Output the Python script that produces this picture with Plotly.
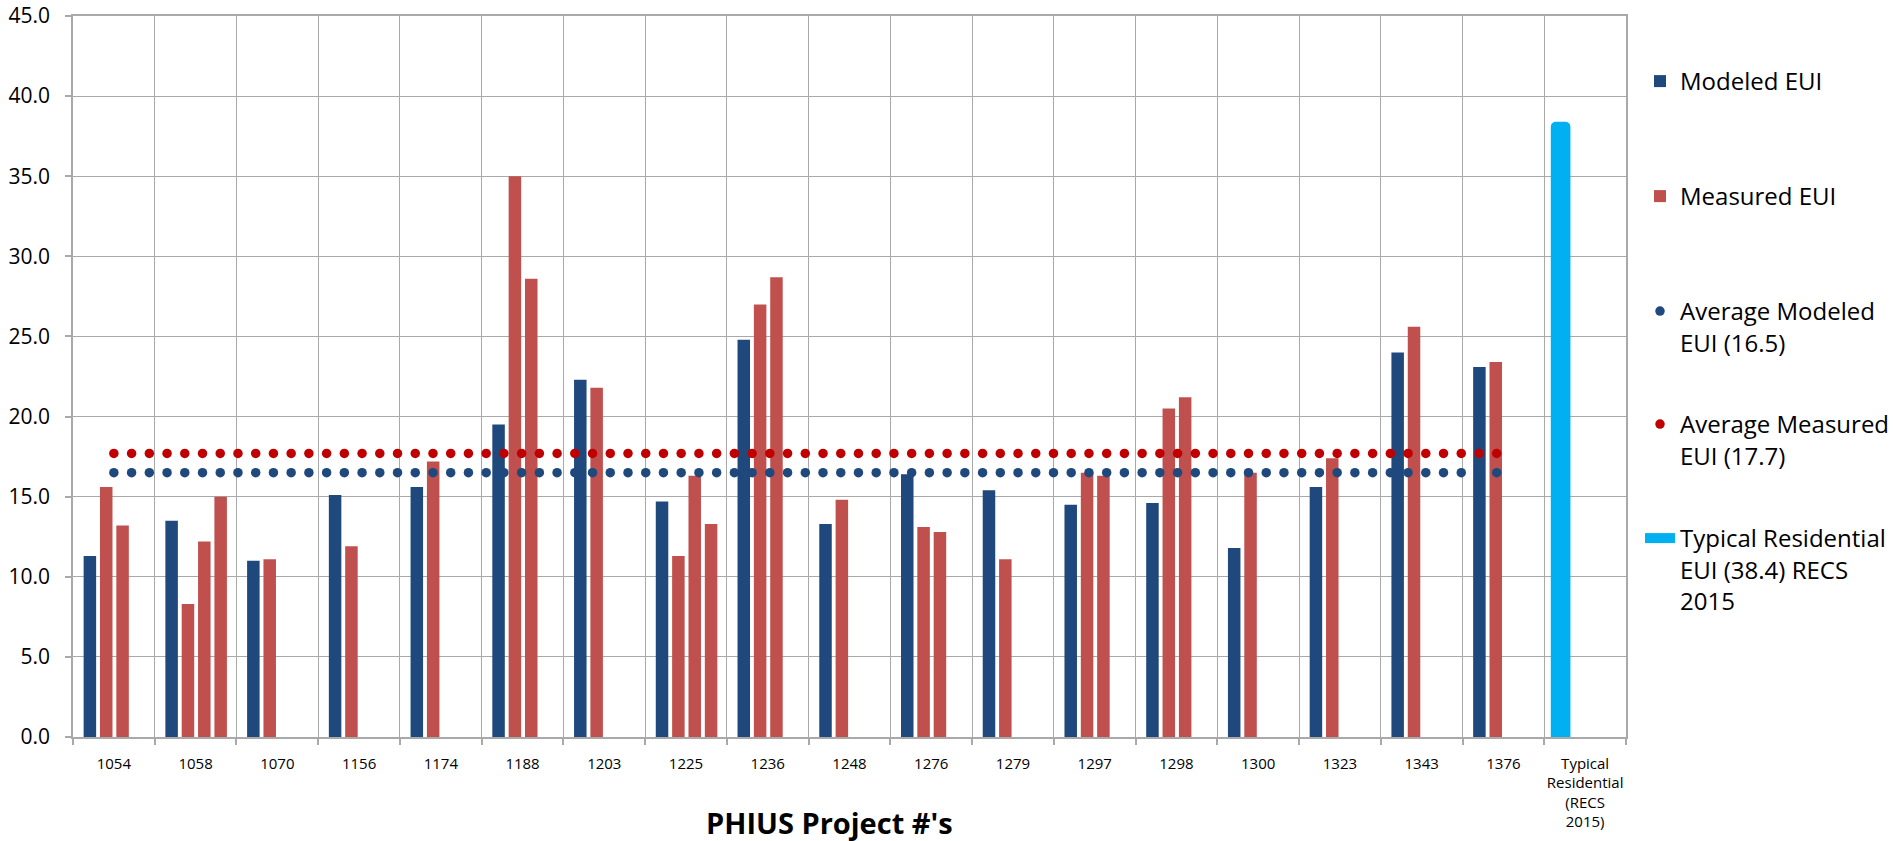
import numpy as np
import plotly.graph_objects as go

# PHIUS project numbers along the x axis, plus the national reference column
projects = ["1054", "1058", "1070", "1156", "1174", "1188", "1203", "1225", "1236",
            "1248", "1276", "1279", "1297", "1298", "1300", "1323", "1343", "1376"]
typical_label = "Typical<br>Residential<br>(RECS<br>2015)"

# Site EUI (kBtu/sf/yr)
modeled_eui = [11.3, 13.5, 11.0, 15.1, 15.6, 19.5, 22.3, 14.7, 24.8,
               13.3, 16.4, 15.4, 14.5, 14.6, 11.8, 15.6, 24.0, 23.1]
measured_eui_yr1 = [15.6, 8.3, 11.1, 11.9, 17.2, 35.0, 21.8, 11.3, 27.0,
                    14.8, 13.1, 11.1, 16.5, 20.5, 16.5, 17.4, 25.6, 23.4]
measured_eui_yr2 = [13.2, 12.2, None, None, None, 28.6, None, 16.3, 28.7,
                    None, 12.8, None, 16.3, 21.2, None, None, None, None]
measured_eui_yr3 = [None, 15.0, None, None, None, None, None, 13.3, None,
                    None, None, None, None, None, None, None, None, None]

avg_modeled_eui = 16.5
avg_measured_eui = 17.7
typical_residential_eui = 38.4

# colours
BLUE = "#1F497D"
RED = "#C0504D"
DOT_RED = "#C00000"
CYAN = "#00B0F0"
GRID = "#A9A9A9"
FONT = "Open Sans"

categories = projects + [typical_label]
xpos = np.arange(len(projects))
typ_pos = [len(projects)]

# bar slot geometry, in category units
BAR_W = 0.153
SLOT = 0.2
FIRST = -0.37

fig = go.Figure()

fig.add_trace(go.Bar(x=xpos, y=modeled_eui, width=BAR_W, offset=FIRST,
                     marker=dict(color=BLUE, line=dict(width=0)),
                     name="Modeled EUI", legend="legend"))
fig.add_trace(go.Bar(x=xpos, y=measured_eui_yr1, width=BAR_W, offset=FIRST + SLOT,
                     marker=dict(color=RED, line=dict(width=0)),
                     name="Measured EUI", legend="legend2"))
fig.add_trace(go.Bar(x=xpos, y=measured_eui_yr2, width=BAR_W, offset=FIRST + 2 * SLOT,
                     marker=dict(color=RED, line=dict(width=0)),
                     name="Measured EUI", showlegend=False))
fig.add_trace(go.Bar(x=xpos, y=measured_eui_yr3, width=BAR_W, offset=FIRST + 3 * SLOT,
                     marker=dict(color=RED, line=dict(width=0)),
                     name="Measured EUI", showlegend=False))

# typical residential column (rounded top like a thick stroke)
fig.add_trace(go.Bar(x=typ_pos, y=[typical_residential_eui], width=0.24, offset=-0.42,
                     marker=dict(color=CYAN, line=dict(width=0), cornerradius=5),
                     name="Typical Residential", showlegend=False))
fig.add_trace(go.Scatter(x=[None], y=[None], mode="lines",
                         line=dict(color=CYAN, width=10),
                         name="Typical Residential<br>EUI (38.4) RECS<br>2015",
                         legend="legend5"))

# round-dot average lines from the first to the last project
dot_step = 0.2169
dot_x = np.arange(0, len(projects) - 1 + 1e-9, dot_step)
fig.add_trace(go.Scatter(x=dot_x, y=np.full(len(dot_x), avg_modeled_eui), mode="markers",
                         marker=dict(size=9.5, color=BLUE),
                         name="Average Modeled<br>EUI (16.5)", legend="legend3"))
fig.add_trace(go.Scatter(x=dot_x, y=np.full(len(dot_x), avg_measured_eui), mode="markers",
                         marker=dict(size=9.5, color=DOT_RED),
                         name="Average Measured<br>EUI (17.7)", legend="legend4"))

PLOT_L, PLOT_R, PLOT_T, PLOT_B = 73, 1626, 16, 737
W, H = 1893, 841


def legend_at(y_px):
    return dict(x=(1640 - PLOT_L) / (PLOT_R - PLOT_L), xanchor="left",
                y=(PLOT_B - y_px) / (PLOT_B - PLOT_T), yanchor="top",
                font=dict(family=FONT, size=24, color="#000"),
                valign="top", bgcolor="rgba(0,0,0,0)", itemwidth=30)


fig.update_layout(
    width=W, height=H,
    margin=dict(l=PLOT_L, r=W - PLOT_R, t=PLOT_T, b=H - PLOT_B, autoexpand=False),
    plot_bgcolor="white", paper_bgcolor="white",
    barmode="overlay",
    font=dict(family=FONT, color="#000"),
    legend=legend_at(59),
    legend2=legend_at(174),
    legend3=legend_at(289),
    legend4=legend_at(402),
    legend5=legend_at(516),
    xaxis=dict(
        range=[-0.5, len(categories) - 0.5],
        tickmode="array", tickvals=list(range(len(categories))), ticktext=categories,
        ticks="", showgrid=False, zeroline=False,
        showline=True, linecolor=GRID, linewidth=1.5, mirror=True,
        tickfont=dict(family=FONT, size=15, color="#000"),
        ticklabelstandoff=12,
        minor=dict(tickmode="linear", tick0=-0.5, dtick=1, ticks="outside", ticklen=6,
                   tickcolor=GRID, tickwidth=1.5, showgrid=True, gridcolor=GRID, gridwidth=1.3),
    ),
    yaxis=dict(
        range=[0, 45], dtick=5, tickformat=".1f",
        showgrid=True, gridcolor=GRID, gridwidth=1.3, zeroline=False,
        showline=True, linecolor=GRID, linewidth=1.5, mirror=True,
        ticks="outside", ticklen=6, tickcolor=GRID, tickwidth=1.5,
        tickfont=dict(family=FONT, size=21, color="#000"),
        ticklabelstandoff=11,
    ),
    annotations=[dict(
        text="<b>PHIUS Project #'s</b>", xref="paper", yref="paper",
        x=(829 - PLOT_L) / (PLOT_R - PLOT_L), y=(PLOT_B - 822) / (PLOT_B - PLOT_T),
        xanchor="center", yanchor="middle", showarrow=False,
        font=dict(family=FONT, size=29, color="#000"),
    )],
)

fig.write_html("out.html")
